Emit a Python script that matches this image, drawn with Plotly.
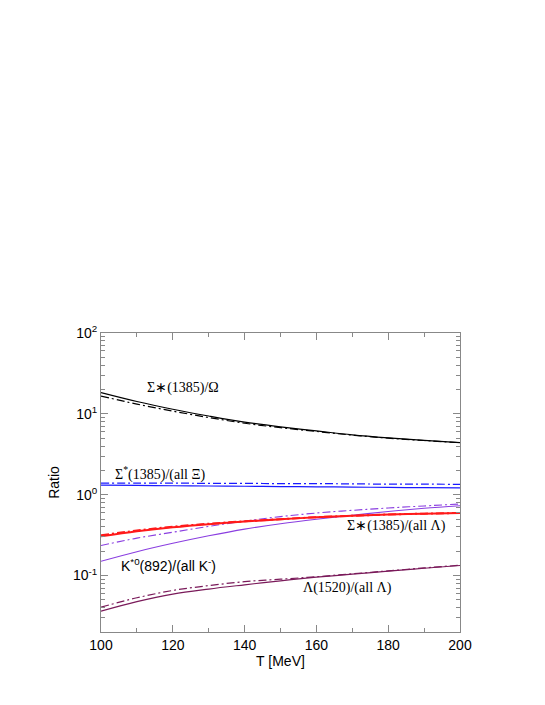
import math
import plotly.graph_objects as go

# temperature grid (MeV)
T = [100, 110, 120, 130, 140, 150, 160, 170, 180, 190, 200]

# Sigma*(1385)/Omega
sig_om_solid = [18.3, 14.2, 11.4, 9.4, 7.9, 6.9, 6.15, 5.5, 5.05, 4.7, 4.4]
sig_om_dash = [16.6, 13.2, 10.8, 9.0, 7.65, 6.75, 6.05, 5.45, 5.0, 4.68, 4.4]

# Sigma*(1385)/(all Xi)
sig_xi_solid = [1.31, 1.30, 1.29, 1.28, 1.27, 1.26, 1.25, 1.24, 1.23, 1.22, 1.21]
sig_xi_dash = [1.39, 1.39, 1.39, 1.38, 1.38, 1.37, 1.37, 1.36, 1.35, 1.35, 1.34]

# Sigma*(1385)/(all Lambda)
sig_la_solid = [0.305, 0.352, 0.395, 0.432, 0.464, 0.496, 0.525, 0.547, 0.567, 0.581, 0.593]
sig_la_dash = [0.315, 0.360, 0.402, 0.437, 0.468, 0.498, 0.526, 0.548, 0.568, 0.582, 0.594]

# K*0(892)/(all K-)
k_solid = [0.150, 0.197, 0.250, 0.310, 0.375, 0.437, 0.497, 0.557, 0.619, 0.678, 0.730]
k_dash = [0.235, 0.290, 0.343, 0.405, 0.470, 0.535, 0.593, 0.640, 0.684, 0.725, 0.766]

# Lambda(1520)/(all Lambda)
lam_solid = [0.0362, 0.0475, 0.0589, 0.0680, 0.0767, 0.0860, 0.0953, 0.104, 0.113, 0.123, 0.133]
lam_dash = [0.0406, 0.0530, 0.0653, 0.0750, 0.0840, 0.0900, 0.0965, 0.105, 0.114, 0.124, 0.134]

ytick_vals = [0.1, 1, 10, 100]
ytick_text = ["10<sup>-1</sup>", "10<sup>0</sup>", "10<sup>1</sup>", "10<sup>2</sup>"]
yminor = [0.02, 0.03, 0.04, 0.05, 0.06, 0.07, 0.08, 0.09,
          0.2, 0.3, 0.4, 0.5, 0.6, 0.7, 0.8, 0.9,
          2, 3, 4, 5, 6, 7, 8, 9,
          20, 30, 40, 50, 60, 70, 80, 90]

DASHDOT = "8px,3px,2px,3px"

fig = go.Figure()

def add_pair(solid, dash, color, width):
    fig.add_trace(go.Scatter(x=T, y=solid, mode="lines", line_shape="spline",
                             line=dict(color=color, width=width)))
    fig.add_trace(go.Scatter(x=T, y=dash, mode="lines", line_shape="spline",
                             line=dict(color=color, width=width, dash=DASHDOT)))

add_pair(sig_om_solid, sig_om_dash, "black", 1.2)
add_pair(sig_xi_solid, sig_xi_dash, "#1a1aff", 1.2)
add_pair(k_solid, k_dash, "#8a3ee0", 1.1)
add_pair(sig_la_solid, sig_la_dash, "#ff1a1a", 2)
add_pair(lam_solid, lam_dash, "#7a1a5a", 1.2)

serif = dict(family="Liberation Serif", size=14, color="black")
sans = dict(family="Liberation Sans", size=14, color="black")
labels = [
    (122.8, 21.1, "Σ∗(1385)/Ω", serif),
    (116.3, 1.85, "Σ<sup>*</sup>(1385)/(all Ξ)", serif),
    (118.7, 0.133, "K<sup>*0</sup>(892)/(all K<sup>-</sup>)", sans),
    (182.3, 0.414, "Σ∗(1385)/(all Λ)", serif),
    (168.6, 0.0703, "Λ(1520)/(all Λ)", serif),
]
for x, y, txt, f in labels:
    # log axis: annotation y is given in log10 units
    fig.add_annotation(x=x, y=math.log10(y), text=txt, showarrow=False, font=f)

fig.update_layout(
    width=545, height=705,
    margin=dict(l=93, r=93, t=325, b=81),
    paper_bgcolor="white", plot_bgcolor="white",
    showlegend=False,
    font=dict(family="Liberation Sans", size=14, color="black"),
)
fig.update_xaxes(
    range=[100, 200], dtick=20, ticks="inside", ticklen=7, tickcolor="#888",
    showline=True, linecolor="#888", linewidth=1, mirror="ticks", showgrid=False, zeroline=False,
    minor=dict(dtick=10, ticks="inside", ticklen=4, tickcolor="#888", showgrid=False),
    title=dict(text="T [MeV]", standoff=4, font=dict(size=14)),
    tickfont=dict(size=14), automargin=False,
)
fig.update_yaxes(
    type="log", range=[-1.699, 2], tickvals=ytick_vals, ticktext=ytick_text,
    ticks="inside", ticklen=7, tickcolor="#888",
    showline=True, linecolor="#888", linewidth=1, mirror="ticks", showgrid=False, zeroline=False,
    minor=dict(tickvals=yminor, ticks="inside", ticklen=4, tickcolor="#888", showgrid=False),
    title=dict(text="Ratio", standoff=10, font=dict(size=14)),
    tickfont=dict(size=14), automargin=False,
)

fig.write_html("out.html")
